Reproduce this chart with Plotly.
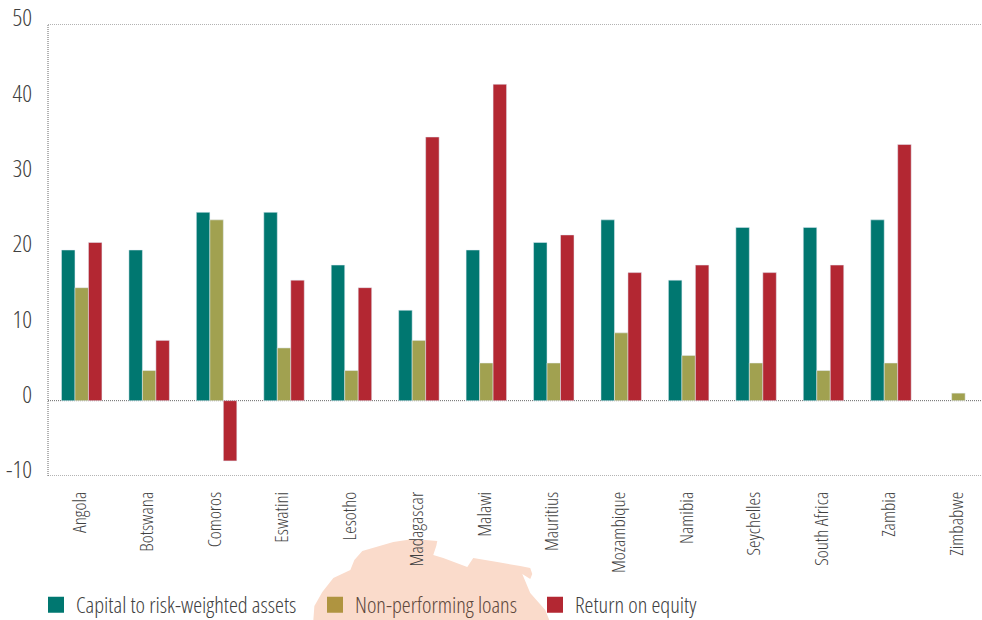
import plotly.graph_objects as go

categories = ["Angola", "Botswana", "Comoros", "Eswatini", "Lesotho", "Madagascar", "Malawi",
              "Mauritius", "Mozambique", "Namibia", "Seychelles", "South Africa", "Zambia", "Zimbabwe"]
capital = [20, 20, 25, 25, 18, 12, 20, 21, 24, 16, 23, 23, 24, None]
npl = [15, 4, 24, 7, 4, 8, 5, 5, 9, 6, 5, 4, 5, 1]
roe = [21, 8, -8, 16, 15, 35, 42, 22, 17, 18, 17, 18, 34, None]
y_ticks = [-10, 0, 10, 20, 30, 40, 50]
y_labels = ["-10", "0", "10", "20", "30", "40", "50"]

TEAL, OLIVE, RED = "#007770", "#A1A150", "#B32732"
FONT = "Open Sans"
GREY = "#404040"
W, H = 982, 620
L, R, T, B = 47.5, 0, 24, 144
plot_w, plot_h = W - L - R, H - T - B

def pt(x, y):
    return f"{(x - L) / plot_w:.4f},{1 - (y - T) / plot_h:.4f}"

# Decorative map fragment behind the legend (pixel outline converted to paper coords)
outline = [(313, 620), (314, 606), (322, 592), (333, 578), (350, 570), (354, 560), (362, 551),
           (393, 542), (413, 539), (437, 541), (436, 546), (433, 555), (443, 558), (467, 567),
           (473, 558), (497, 562), (520, 566), (530, 568), (532, 574), (530, 579), (522, 574),
           (530, 593), (545, 610), (549, 620)]
blob = "M" + " L".join(pt(*p) for p in outline) + " Z"

fig = go.Figure()
for name, vals, col in [("Capital to risk-weighted assets", capital, TEAL),
                        ("Non-performing loans", npl, OLIVE),
                        ("Return on equity", roe, RED)]:
    fig.add_bar(x=categories, y=vals, name=name, marker_color=col, showlegend=False)

legend_pos = [("legend", 46), ("legend2", 325), ("legend3", 545)]
legend_items = [("Capital to risk-weighted assets", TEAL, "#404040"),
                ("Non-performing loans", "#AF9440", "#5e483c"),
                ("Return on equity", RED, "#404040")]
for (lg, _), (name, col, _c) in zip(legend_pos, legend_items):
    fig.add_scatter(x=[None], y=[None], mode="markers", name=name, legend=lg,
                    marker=dict(symbol="square", size=16, color=col))

shapes = [dict(type="path", xref="paper", yref="paper", path=blob, fillcolor="#FADBCB",
               line=dict(width=0), layer="below")]
dot = dict(color="#666666", width=1, dash="1px,1px")
for v in (50, 0, -10):
    shapes.append(dict(type="line", xref="paper", yref="y", x0=0, x1=1, y0=v, y1=v, line=dot, layer="below"))
shapes.append(dict(type="line", xref="paper", yref="y", x0=0, x1=0, y0=-10, y1=50, line=dot, layer="below"))

layout_legends = {}
for (lg, x), (_, _, c) in zip(legend_pos, legend_items):
    layout_legends[lg] = dict(x=(x - 10) / W, y=1 - 605 / H, xref="container", yref="container",
                              xanchor="left", yanchor="middle",
                              orientation="h", bgcolor="rgba(0,0,0,0)",
                              font=dict(family=FONT, size=22.5, color=c, weight=300), itemclick=False)

fig.update_layout(
    width=W, height=H, autosize=False,
    margin=dict(l=L, r=R, t=T, b=B, pad=0),
    paper_bgcolor="white", plot_bgcolor="rgba(0,0,0,0)",
    barmode="group", bargap=0.4, bargroupgap=0,
    shapes=shapes, **layout_legends,
    xaxis=dict(range=[-0.5, 13.35], tickvals=categories, tickangle=-90, showgrid=False, zeroline=False,
               showline=False, ticks="", ticklabelstandoff=11, ticklabelshift=-2, automargin=False,
               tickfont=dict(family=FONT, size=19, color=GREY, weight=300)),
    yaxis=dict(range=[-10, 50], tickvals=y_ticks, ticktext=y_labels, showgrid=False, zeroline=False, showline=False,
               ticks="", ticklabelstandoff=15, ticklabelshift=-6, automargin=False,
               tickfont=dict(family=FONT, size=24, color=GREY, weight=300)),
)
PAGE_JS = """
document.body.style.margin='0';document.body.style.overflow='hidden';
var s=document.createElement('style');s.textContent='svg text{font-stretch:62.5%;}';document.head.appendChild(s);
"""
fig.write_html("out.html", post_script=PAGE_JS, config={"displayModeBar": False})
